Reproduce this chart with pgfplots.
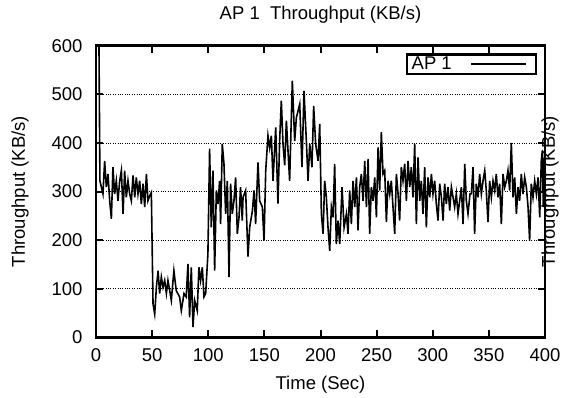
\documentclass[border=0pt]{standalone}
\usepackage{fontspec}
\setmainfont{Liberation Sans}
\usepackage{pgfplots}
\pgfplotsset{compat=1.18}
\begin{document}
\begin{tikzpicture}[font=\fontsize{18.5bp}{22bp}\selectfont]
\path[use as bounding box] (-96bp,-60.7bp) rectangle (467bp,337.3bp);
\begin{axis}[
  name=ax,
  at={(0,0)}, anchor=south west,
  scale only axis, width=449bp, height=291.6bp,
  xmin=0, xmax=400, ymin=0, ymax=600,
  xtick={0,50,...,400}, ytick={0,100,...,600},
  /pgf/number format/assume math mode=true,
  tick align=inside, major tick length=7bp,
  every tick/.style={black, line width=2bp},
  axis line style={line width=2.8bp},
  ymajorgrids, grid style={dotted, black, line width=0.8bp},
  xticklabel style={yshift=-8bp},
  yticklabel style={xshift=-10bp},
  title={AP 1\ \ Throughput (KB/s)},
  title style={at={(axis description cs:0.5,1.085)}, anchor=center},
  xlabel={Time (Sec)},
  xlabel style={at={(axis description cs:0.5,-0.163)}, anchor=center},
  ylabel={Throughput (KB/s)},
  ylabel style={at={(axis description cs:-0.169,0.5)}, anchor=center},
  legend plot pos=right,
  legend cell align=left,
  legend style={at={(rel axis cs:0.983,0.9736)}, anchor=north east, draw=black, line width=2.2bp, inner xsep=3bp, inner ysep=1bp, nodes={inner sep=1.5bp}},
  legend image code/.code={\path[draw=none,fill=none] (0bp,0bp) rectangle (80bp,0bp); \draw[black, line width=1.4bp] (18bp,0bp) -- (73bp,0bp);},
]
\addplot[black, line width=1.6bp, mark=none] coordinates {
(0,690)(2.5,650)(3.5,322)(6.2,295)(7.7,363)(9.2,309)(10.7,336)(12.2,281)(13.7,244)(15.1,350)(16.6,295)(18.1,322)(19.6,281)(21.1,322)(22.6,343)(24.1,254)(25.5,343)(27,288)(28.5,322)(30,295)(31.5,281)(33,333)(34.5,288)(35.9,329)(37.4,295)(38.9,322)(40.4,274)(41.9,316)(43.4,268)(44.9,336)(46.3,281)(47.8,291)(49.3,298)
(50.8,69)(52.3,48)(53.8,103)(55.3,137)(56.7,90)(58.2,124)(59.7,103)(61.2,117)(62.7,90)
(64.1,117)(67.1,76)(69.4,137)(71.5,96)(74.5,83)(76,55)(78.4,90)(80.4,83)(81.9,151)(83.4,41)(84.9,144)(86.4,21)(87.9,76)(90.2,55)(91.7,144)(93.2,117)(94.7,144)(96.2,83)(97.7,90)(99.7,172)
(101.2,388)(102.7,226)(104.2,343)(105.7,137)(107.2,302)(108.7,274)(110.1,322)(111,233)(112.5,398)(114,357)(115.5,254)(117,322)(118.5,124)(119.9,316)(121.4,254)(122.9,281)(124.4,329)(125.9,213)(127.4,247)(128.8,309)(130.3,240)
(131,288)(133.3,302)(135.4,166)(136.9,226)(139.3,260)(140.8,302)(142.2,233)(144.3,360)(145.8,281)(148.2,268)(149.7,199)(151.2,343)(153.2,415)(154.7,390)(156.2,415)(157.7,322)(160.1,432)(162.1,275)(163.6,404)(165.1,487)(166.6,398)(168.1,354)(169.6,446)(172.5,322)(174.9,528)(177,404)(178.5,452)(181.5,480)(183.5,350)(185.3,507)(187.4,404)(188.9,322)(190.4,398)(192.4,350)(193.9,476)(195.7,398)(197.8,363)
(199.3,439)(200.8,254)(202.3,213)(203.7,322)(205.2,288)(206.7,226)(208.2,178)(209.7,268)(211.2,247)(212.6,357)(214.1,192)(215.6,240)(217.1,192)(219.2,309)(221,226)(223.1,254)(224.5,213)(226,302)(227.5,233)(229,322)(230.5,268)(232,329)(233.4,220)(234.9,309)(236.4,336)(237.9,281)(239.4,363)(240.9,268)(242.4,367)(243.8,213)(245.3,309)(246.8,281)(248.3,329)(249.8,247)(251.3,391)(252.7,302)(254.2,422)(255.7,336)(257.2,343)(258.7,237)(260.2,322)(261.7,295)(263.1,322)
(264.6,268)(266.1,213)(267.6,336)(269.1,295)(270.5,240)(272,350)(273.5,322)(275,357)(276.5,281)(278,363)(279.5,309)(280.9,350)(282.4,288)(283.9,398)(285.4,233)(286.9,370)(288.4,281)(289.8,322)(291.3,254)(292.8,350)(294.3,226)(295.8,329)(297.3,288)(298.8,336)(300.2,295)(301.7,322)(303.2,274)(304.7,240)(306.2,316)(307.7,288)(309.2,240)(310.6,316)(312.1,274)(313.6,309)(315.1,261)(316.6,309)(318.1,288)(319.5,268)(321,295)(322.5,254)(324,281)(325.5,309)(327,233)(328.5,357)(329.9,281)(331.4,254)
(333.2,295)(334.4,295)(335.9,350)(337.3,213)(338.8,316)(340.3,288)(341.8,336)(343.3,295)(344.8,322)(346.3,343)(347.7,302)(349.2,237)(350.7,322)(352.2,288)(353.7,322)(355.2,302)(356.6,336)(358.1,288)(359.6,316)(361.1,233)(362.6,336)(364.1,309)(365.6,322)(367,343)(368.5,302)(370,400)(371.5,288)(373,329)(374.5,254)(376,309)(377.4,281)(378.9,336)(380.4,295)(381.9,329)(383.4,309)(384.9,268)(386.3,199)(387.8,316)(389.3,288)(390.8,322)(392.3,295)(393.8,329)(395.3,247)(396.7,363)(397.6,384)(398.5,268)(399.1,336)(400,390)
};
\addlegendentry{AP 1}
\end{axis}
\node[rotate=90, anchor=center] at ([xshift=5bp]ax.east) {Throughput (KB/s)};
\end{tikzpicture}
\end{document}
